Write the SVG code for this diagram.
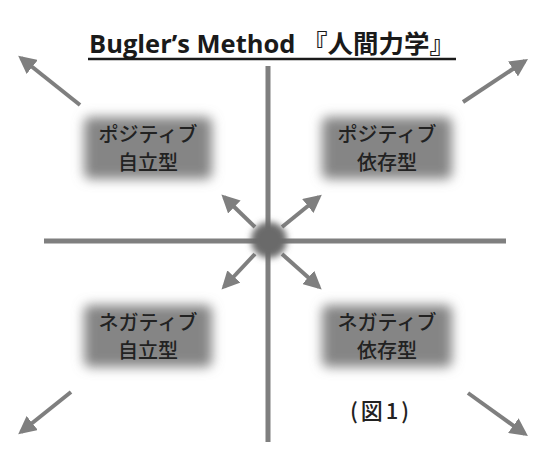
<svg xmlns="http://www.w3.org/2000/svg" width="541" height="453" viewBox="0 0 541 453">
<style>
.ax{stroke:#7f7f7f;stroke-width:5;fill:none}
.ar{stroke:#7f7f7f;stroke-width:4;fill:none}
.box{fill:#858585}
.lbl{font-family:"Noto Sans CJK JP","Noto Sans",sans-serif;font-size:20px;font-weight:500;fill:#222;text-anchor:middle}
.title{font-family:"Open Sans","Noto Sans CJK JP",sans-serif;font-size:25px;font-weight:bold;fill:#1a1a1a}
</style>
<defs>
<filter id="blur" x="-30%" y="-40%" width="160%" height="180%"><feGaussianBlur stdDeviation="6"/></filter>
<filter id="blur2" x="-50%" y="-50%" width="200%" height="200%"><feGaussianBlur stdDeviation="3"/></filter>
<marker id="ah" viewBox="0 0 10 10" refX="8" refY="5" markerWidth="4.5" markerHeight="4.5" orient="auto"><path d="M0,0 L10,5 L0,10 z" fill="#7f7f7f"/></marker>
</defs>
<rect width="541" height="453" fill="#fff"/>
<g id="title">
<text class="title" x="89" y="53" textLength="366" lengthAdjust="spacingAndGlyphs">Bugler’s Method 『人間力学』</text>
<line x1="88" y1="59" x2="456" y2="59" stroke="#1a1a1a" stroke-width="2.5"/>
</g>
<g id="connectors">
<line class="ax" x1="268" y1="66" x2="268" y2="442"/>
<line class="ax" x1="44" y1="241" x2="506" y2="241"/>
<line class="ar" x1="255" y1="227" x2="224" y2="197" marker-end="url(#ah)"/>
<line class="ar" x1="282" y1="227" x2="319" y2="197" marker-end="url(#ah)"/>
<line class="ar" x1="255" y1="254" x2="224" y2="287" marker-end="url(#ah)"/>
<line class="ar" x1="282" y1="254" x2="319" y2="287" marker-end="url(#ah)"/>
<line class="ar" x1="80" y1="105" x2="21" y2="58" marker-end="url(#ah)"/>
<line class="ar" x1="463" y1="102" x2="525" y2="61" marker-end="url(#ah)"/>
<line class="ar" x1="71" y1="392" x2="21" y2="432" marker-end="url(#ah)"/>
<line class="ar" x1="468" y1="393" x2="525" y2="434" marker-end="url(#ah)"/>
</g>
<g id="center">
<circle cx="269" cy="240" r="18" fill="#6a6a6a" filter="url(#blur2)"/>
</g>
<g id="pos-ind">
<rect class="box" x="84" y="117" width="128" height="62" rx="6" filter="url(#blur)"/>
<text class="lbl" x="148" y="142">ポジティブ</text>
<text class="lbl" x="148" y="170">自立型</text>
</g>
<g id="pos-dep">
<rect class="box" x="322" y="117" width="130" height="62" rx="6" filter="url(#blur)"/>
<text class="lbl" x="387" y="142">ポジティブ</text>
<text class="lbl" x="387" y="170">依存型</text>
</g>
<g id="neg-ind">
<rect class="box" x="84" y="305" width="128" height="62" rx="6" filter="url(#blur)"/>
<text class="lbl" x="148" y="330">ネガティブ</text>
<text class="lbl" x="148" y="358">自立型</text>
</g>
<g id="neg-dep">
<rect class="box" x="322" y="305" width="130" height="62" rx="6" filter="url(#blur)"/>
<text class="lbl" x="387" y="330">ネガティブ</text>
<text class="lbl" x="387" y="358">依存型</text>
</g>
<g id="fig">
<text class="lbl" x="381" y="419" style="font-size:22px;letter-spacing:3px">(図1)</text>
</g>
</svg>
